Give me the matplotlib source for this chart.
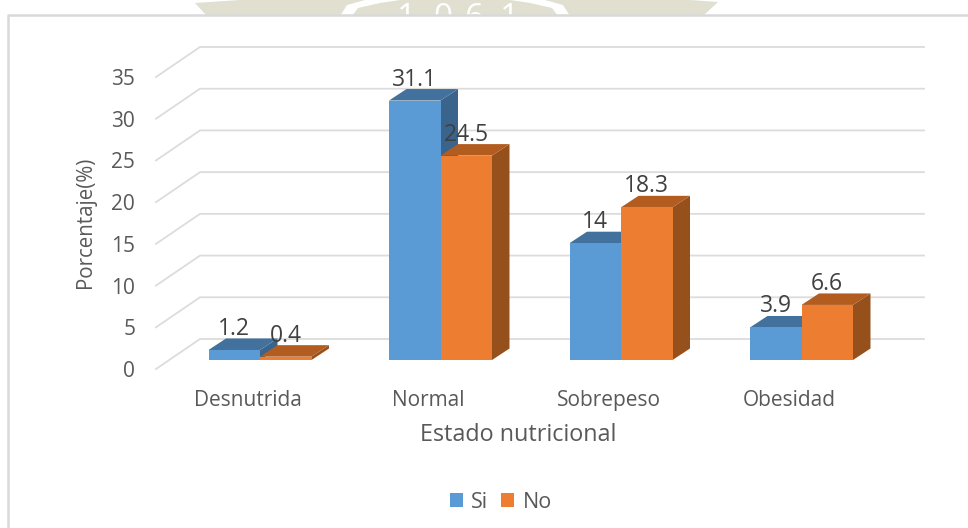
import matplotlib
matplotlib.use("Agg")
import matplotlib.pyplot as plt
import numpy as np
from matplotlib.patches import Polygon, Rectangle

categories = ["Desnutrida", "Normal", "Sobrepeso", "Obesidad"]
si_values = [1.2, 31.1, 14, 3.9]
no_values = [0.4, 24.5, 18.3, 6.6]
y_ticks = [0, 5, 10, 15, 20, 25, 30, 35]

BLUE, BLUE_TOP, BLUE_SIDE = "#5b9bd5", "#41719c", "#3a648c"
ORANGE, ORANGE_TOP, ORANGE_SIDE = "#ed7d31", "#b35c20", "#96501c"
GREY = "#595959"

plt.rcParams["font.family"] = "Open Sans"

W, H = 968, 528
fig = plt.figure(figsize=(W / 100, H / 100), dpi=100)
ax = fig.add_axes([156 / W, (H - 369) / H, 768 / W, 292 / H])
ax.patch.set_alpha(0)
ax.set_xlim((156 - 260) / 180.5, (924 - 260) / 180.5)
ax.set_ylim(0, 35)
for s in ax.spines.values():
    s.set_visible(False)

px_x = 1 / 180.5
px_y = 35 / 292
bar_w = 51.5 * px_x
lift = 9 * px_y
dx, dy = 17.5 * px_x, 11.5 * px_y
wall_dx, wall_dy = 44 * px_x, 30 * px_y

# floor/wall gridlines, slanted part then back line
x0 = ax.get_xlim()[0]
x1 = ax.get_xlim()[1]
for t in y_ticks:
    ax.plot([x0, x0 + wall_dx, x1], [t, t + wall_dy, t + wall_dy], color="#dcdcdc",
            lw=1.3, zorder=1, clip_on=False, solid_joinstyle="miter")


def bar3d(x, v, front, top, side):
    # x is the left edge of the front face
    y0, y1 = lift, lift + v
    ax.add_patch(Polygon([(x + bar_w, y0), (x + bar_w + dx, y0 + dy), (x + bar_w + dx, y1 + dy), (x + bar_w, y1)],
                         fc=side, ec="none", zorder=3, clip_on=False))
    ax.add_patch(Polygon([(x, y1), (x + dx, y1 + dy), (x + bar_w + dx, y1 + dy), (x + bar_w, y1)],
                         fc=top, ec="none", zorder=3, clip_on=False))
    ax.bar(x, v, bar_w, bottom=lift, align="edge", color=front, zorder=3, clip_on=False)


pos = np.arange(len(categories))
for i in pos:
    bar3d(pos[i] - bar_w, si_values[i], BLUE, BLUE_TOP, BLUE_SIDE)
for i in pos:
    bar3d(pos[i], no_values[i], ORANGE, ORANGE_TOP, ORANGE_SIDE)

for i in pos:
    ax.text(pos[i] - bar_w / 2, lift + si_values[i] + 21 * px_y, str(si_values[i]), ha="center",
            va="center", fontsize=16.5, color="#404040", zorder=5)
    ax.text(pos[i] + bar_w / 2, lift + no_values[i] + 21 * px_y, str(no_values[i]), ha="center",
            va="center", fontsize=16.5, color="#404040", zorder=5)

ax.set_yticks(y_ticks)
ax.set_yticklabels([str(t) for t in y_ticks], fontsize=15, color=GREY)
ax.set_xticks(pos - 12 * px_x)
ax.set_xticklabels(categories, fontsize=15, color=GREY)
ax.tick_params(length=0)
ax.tick_params(axis="y", pad=15)
ax.tick_params(axis="x", pad=15)

ax.set_ylabel("Porcentaje(%)", fontsize=14.8, color=GREY, va="center")
ax.yaxis.set_label_coords((85 - 156) / 768, (369 - 222) / 292)
ax.set_xlabel("Estado nutricional", fontsize=16.8, color=GREY, va="center")
ax.xaxis.set_label_coords((518 - 156) / 768, (369 - 435) / 292)

# legend
handles = [Rectangle((0, 0), 1, 1, fc=BLUE), Rectangle((0, 0), 1, 1, fc=ORANGE)]
fig.legend(handles, ["Si", "No"], loc="center", bbox_to_anchor=(501 / W, (H - 502) / H), ncol=2, frameon=False,
           fontsize=15.5, labelcolor=GREY, handlelength=0.6, handleheight=0.6, handletextpad=0.4, columnspacing=0.6)


def fp(pts):
    return [(x / W, (H - y) / H) for x, y in pts]


# watermark peeking above the white card
fig.add_artist(Polygon(fp([(195, 3), (240, 0), (690, 0), (718, 2), (703, 16), (207, 16)]), closed=True,
                       fc="#e0dfd0", ec="none", transform=fig.transFigure, zorder=-5))
fig.add_artist(Polygon(fp([(340, 16), (347, 5), (365, 0), (400, 0), (380, 3), (358, 8), (352, 16)]), closed=True,
                       fc="white", ec="none", transform=fig.transFigure, zorder=-4))
fig.add_artist(Polygon(fp([(570, 16), (563, 5), (545, 0), (510, 0), (530, 3), (552, 8), (558, 16)]), closed=True,
                       fc="white", ec="none", transform=fig.transFigure, zorder=-4))
for ch, cx in zip("1061", [407, 443, 474, 510]):
    fig.text(cx / W, (H - 2) / H, ch, fontsize=24, color="white", ha="center", va="top", zorder=-4)
fig.add_artist(Rectangle((0, 0), 1, (H - 15) / H, fc="white", ec="none", transform=fig.transFigure, zorder=-3))
fig.add_artist(plt.Line2D([8 / W, 8 / W, 1], [0, (H - 15) / H, (H - 15) / H], color="#d9d9d9", lw=1.8, zorder=-2))

fig.savefig("out.png", dpi=100)
